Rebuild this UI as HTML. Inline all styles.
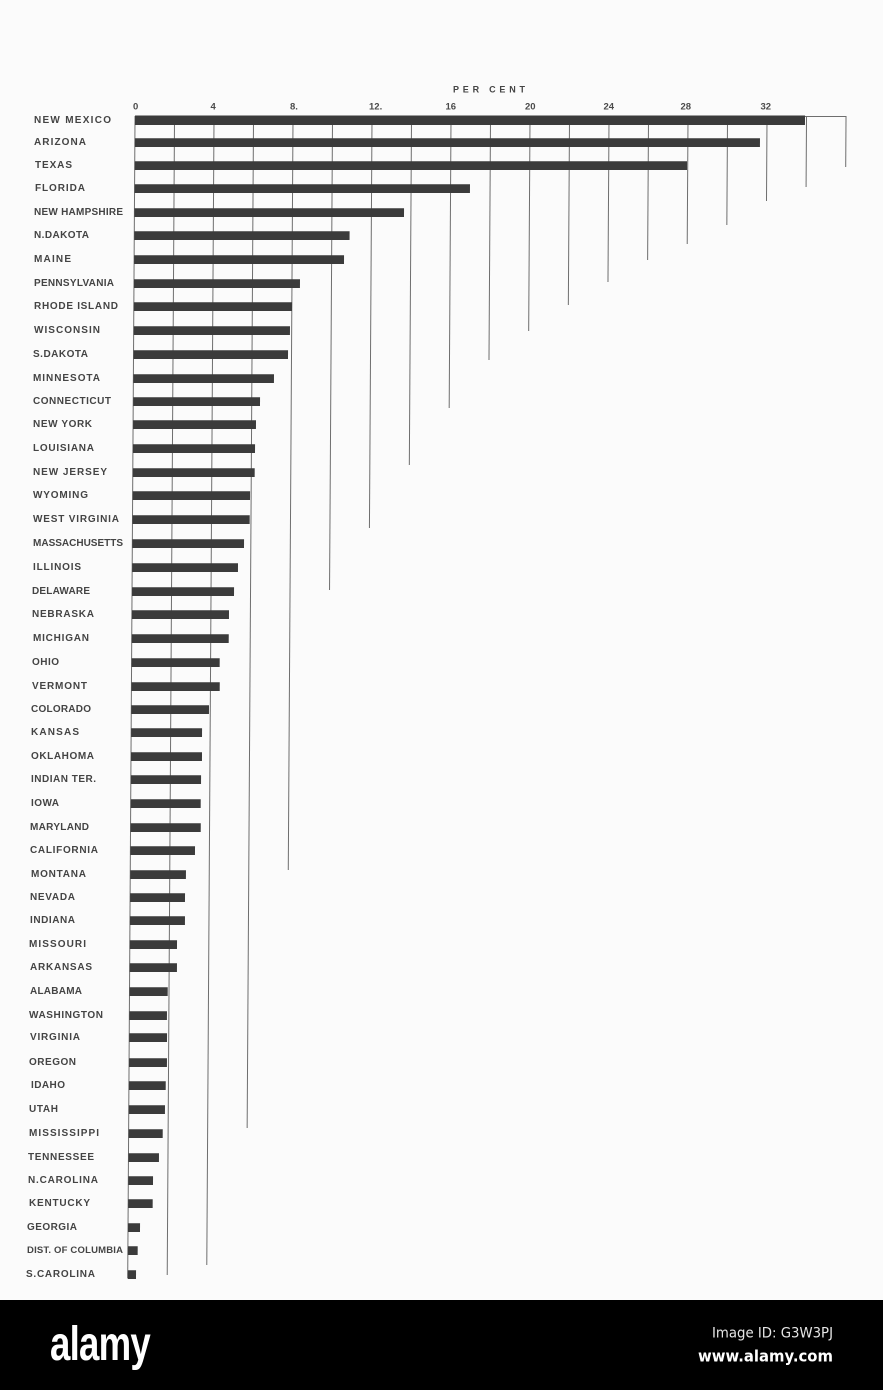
<!DOCTYPE html>
<html><head><meta charset="utf-8"><style>
html,body{margin:0;padding:0;background:#fbfbfb;}
svg{display:block;}
.lb{font-family:"Liberation Sans",sans-serif;font-weight:bold;font-size:10px;fill:#444;}
.tk{font-family:"Liberation Sans",sans-serif;font-weight:bold;font-size:9.5px;fill:#4a4a4a;}
</style></head><body>
<svg width="883" height="1390" viewBox="0 0 883 1390" xmlns="http://www.w3.org/2000/svg">
<rect x="0" y="0" width="883" height="1300" fill="#fbfbfb"/>
<text class="tk" x="453" y="92.5" textLength="72" lengthAdjust="spacing" style="font-size:9px;fill:#444">PER CENT</text>
<text class="tk" x="133" y="109.5">0</text>
<text class="tk" x="210.5" y="109.5">4</text>
<text class="tk" x="290" y="109.5">8.</text>
<text class="tk" x="369" y="109.5">12.</text>
<text class="tk" x="445.5" y="109.5">16</text>
<text class="tk" x="525" y="109.5">20</text>
<text class="tk" x="603.5" y="109.5">24</text>
<text class="tk" x="680.5" y="109.5">28</text>
<text class="tk" x="760.5" y="109.5">32</text>
<g transform="translate(0.756,0) skewX(-0.361)">
<line x1="135" y1="116.5" x2="846" y2="116.5" stroke="#6e6e6e" stroke-width="1"/>
<g stroke="#6e6e6e" stroke-width="1">
<line x1="135" y1="116" x2="135" y2="1278"/>
<line x1="174.5" y1="116" x2="174.5" y2="1275"/>
<line x1="214" y1="116" x2="214" y2="1265"/>
<line x1="253.5" y1="116" x2="253.5" y2="1128"/>
<line x1="293" y1="116" x2="293" y2="870"/>
<line x1="332.5" y1="116" x2="332.5" y2="590"/>
<line x1="372" y1="116" x2="372" y2="528"/>
<line x1="411.5" y1="116" x2="411.5" y2="465"/>
<line x1="451" y1="116" x2="451" y2="408"/>
<line x1="490.5" y1="116" x2="490.5" y2="360"/>
<line x1="530" y1="116" x2="530" y2="331"/>
<line x1="569.5" y1="116" x2="569.5" y2="305"/>
<line x1="609" y1="116" x2="609" y2="282"/>
<line x1="648.5" y1="116" x2="648.5" y2="260"/>
<line x1="688" y1="116" x2="688" y2="244"/>
<line x1="727.5" y1="116" x2="727.5" y2="225"/>
<line x1="767" y1="116" x2="767" y2="201"/>
<line x1="806.5" y1="116" x2="806.5" y2="187"/>
<line x1="846" y1="116" x2="846" y2="167"/>
</g>
<g fill="#3b3b3b">
<rect x="135" y="115.5" width="670" height="9.5"/>
<rect x="135" y="138.2" width="625.1" height="8.8"/>
<rect x="135" y="161.2" width="552.3" height="8.8"/>
<rect x="135" y="184.2" width="335.4" height="8.8"/>
<rect x="135" y="208.2" width="269.6" height="8.8"/>
<rect x="135" y="231.2" width="215.3" height="8.8"/>
<rect x="135" y="255.2" width="209.9" height="8.8"/>
<rect x="135" y="279.2" width="166.0" height="8.8"/>
<rect x="135" y="302.2" width="158.2" height="8.8"/>
<rect x="135" y="326.2" width="156.3" height="8.8"/>
<rect x="135" y="350.2" width="154.5" height="8.8"/>
<rect x="135" y="374.2" width="140.6" height="8.8"/>
<rect x="135" y="397.2" width="126.8" height="8.8"/>
<rect x="135" y="420.2" width="122.9" height="8.8"/>
<rect x="135" y="444.2" width="122.1" height="8.8"/>
<rect x="135" y="468.2" width="121.9" height="8.8"/>
<rect x="135" y="491.2" width="117.4" height="8.8"/>
<rect x="135" y="515.2" width="117.2" height="8.8"/>
<rect x="135" y="539.2" width="111.7" height="8.8"/>
<rect x="135" y="563.2" width="105.8" height="8.8"/>
<rect x="135" y="587.2" width="102.0" height="8.8"/>
<rect x="135" y="610.2" width="97.1" height="8.8"/>
<rect x="135" y="634.2" width="97.0" height="8.8"/>
<rect x="135" y="658.2" width="88.1" height="8.8"/>
<rect x="135" y="682.2" width="88.3" height="8.8"/>
<rect x="135" y="705.2" width="77.7" height="8.8"/>
<rect x="135" y="728.2" width="70.9" height="8.8"/>
<rect x="135" y="752.2" width="71.0" height="8.8"/>
<rect x="135" y="775.2" width="70.2" height="8.8"/>
<rect x="135" y="799.2" width="70.0" height="8.8"/>
<rect x="135" y="823.2" width="70.2" height="8.8"/>
<rect x="135" y="846.2" width="64.6" height="8.8"/>
<rect x="135" y="870.2" width="55.7" height="8.8"/>
<rect x="135" y="893.2" width="54.9" height="8.8"/>
<rect x="135" y="916.2" width="55.0" height="8.8"/>
<rect x="135" y="940.2" width="47.2" height="8.8"/>
<rect x="135" y="963.2" width="47.3" height="8.8"/>
<rect x="135" y="987.2" width="38.2" height="8.8"/>
<rect x="135" y="1011.2" width="37.6" height="8.8"/>
<rect x="135" y="1033.2" width="37.8" height="8.8"/>
<rect x="135" y="1058.2" width="37.9" height="8.8"/>
<rect x="135" y="1081.2" width="36.8" height="8.8"/>
<rect x="135" y="1105.2" width="36.2" height="8.8"/>
<rect x="135" y="1129.2" width="34.1" height="8.8"/>
<rect x="135" y="1153.2" width="30.5" height="8.8"/>
<rect x="135" y="1176.2" width="24.7" height="8.8"/>
<rect x="135" y="1199.2" width="24.5" height="8.8"/>
<rect x="135" y="1223.2" width="12.0" height="8.8"/>
<rect x="135" y="1246.2" width="9.8" height="8.8"/>
<rect x="135" y="1270.2" width="8.3" height="8.8"/>
</g>
</g>
<g class="lb">
<text x="34" y="122.8" textLength="77" lengthAdjust="spacing">NEW MEXICO</text>
<text x="34" y="144.8" textLength="52" lengthAdjust="spacing">ARIZONA</text>
<text x="35" y="167.8" textLength="37" lengthAdjust="spacing">TEXAS</text>
<text x="35" y="190.8" textLength="50" lengthAdjust="spacing">FLORIDA</text>
<text x="34" y="214.8" textLength="89" lengthAdjust="spacing">NEW HAMPSHIRE</text>
<text x="34" y="237.8" textLength="55" lengthAdjust="spacing">N.DAKOTA</text>
<text x="34" y="261.8" textLength="37" lengthAdjust="spacing">MAINE</text>
<text x="34" y="285.8" textLength="80" lengthAdjust="spacing">PENNSYLVANIA</text>
<text x="34" y="308.8" textLength="84" lengthAdjust="spacing">RHODE ISLAND</text>
<text x="34" y="332.8" textLength="66" lengthAdjust="spacing">WISCONSIN</text>
<text x="33" y="356.8" textLength="55" lengthAdjust="spacing">S.DAKOTA</text>
<text x="33" y="380.8" textLength="67" lengthAdjust="spacing">MINNESOTA</text>
<text x="33" y="403.8" textLength="78" lengthAdjust="spacing">CONNECTICUT</text>
<text x="33" y="426.8" textLength="59" lengthAdjust="spacing">NEW YORK</text>
<text x="33" y="450.8" textLength="61" lengthAdjust="spacing">LOUISIANA</text>
<text x="33" y="474.8" textLength="74" lengthAdjust="spacing">NEW JERSEY</text>
<text x="33" y="497.8" textLength="55" lengthAdjust="spacing">WYOMING</text>
<text x="33" y="521.8" textLength="86" lengthAdjust="spacing">WEST VIRGINIA</text>
<text x="33" y="545.8" textLength="90" lengthAdjust="spacing">MASSACHUSETTS</text>
<text x="33" y="569.8" textLength="48" lengthAdjust="spacing">ILLINOIS</text>
<text x="32" y="593.8" textLength="58" lengthAdjust="spacing">DELAWARE</text>
<text x="32" y="616.8" textLength="62" lengthAdjust="spacing">NEBRASKA</text>
<text x="33" y="640.8" textLength="56" lengthAdjust="spacing">MICHIGAN</text>
<text x="32" y="664.8" textLength="27" lengthAdjust="spacing">OHIO</text>
<text x="32" y="688.8" textLength="55" lengthAdjust="spacing">VERMONT</text>
<text x="31" y="711.8" textLength="60" lengthAdjust="spacing">COLORADO</text>
<text x="31" y="734.8" textLength="48" lengthAdjust="spacing">KANSAS</text>
<text x="31" y="758.8" textLength="63" lengthAdjust="spacing">OKLAHOMA</text>
<text x="31" y="781.8" textLength="65" lengthAdjust="spacing">INDIAN TER.</text>
<text x="31" y="805.8" textLength="28" lengthAdjust="spacing">IOWA</text>
<text x="30" y="829.8" textLength="59" lengthAdjust="spacing">MARYLAND</text>
<text x="30" y="852.8" textLength="68" lengthAdjust="spacing">CALIFORNIA</text>
<text x="31" y="876.8" textLength="55" lengthAdjust="spacing">MONTANA</text>
<text x="30" y="899.8" textLength="45" lengthAdjust="spacing">NEVADA</text>
<text x="30" y="922.8" textLength="45" lengthAdjust="spacing">INDIANA</text>
<text x="29" y="946.8" textLength="57" lengthAdjust="spacing">MISSOURI</text>
<text x="30" y="969.8" textLength="62" lengthAdjust="spacing">ARKANSAS</text>
<text x="30" y="993.8" textLength="52" lengthAdjust="spacing">ALABAMA</text>
<text x="29" y="1017.8" textLength="74" lengthAdjust="spacing">WASHINGTON</text>
<text x="30" y="1039.8" textLength="50" lengthAdjust="spacing">VIRGINIA</text>
<text x="29" y="1064.8" textLength="47" lengthAdjust="spacing">OREGON</text>
<text x="31" y="1087.8" textLength="34" lengthAdjust="spacing">IDAHO</text>
<text x="29" y="1111.8" textLength="29" lengthAdjust="spacing">UTAH</text>
<text x="29" y="1135.8" textLength="70" lengthAdjust="spacing">MISSISSIPPI</text>
<text x="28" y="1159.8" textLength="66" lengthAdjust="spacing">TENNESSEE</text>
<text x="28" y="1182.8" textLength="70" lengthAdjust="spacing">N.CAROLINA</text>
<text x="29" y="1205.8" textLength="61" lengthAdjust="spacing">KENTUCKY</text>
<text x="27" y="1229.8" textLength="50" lengthAdjust="spacing">GEORGIA</text>
<text x="27" y="1252.8" textLength="96" lengthAdjust="spacing" style="font-size:9.5px">DIST. OF COLUMBIA</text>
<text x="26" y="1276.8" textLength="69" lengthAdjust="spacing">S.CAROLINA</text>
</g>
<rect x="0" y="1300" width="883" height="90" fill="#000"/>
<text x="50" y="1360" textLength="100" lengthAdjust="spacingAndGlyphs" style="font-family:'Liberation Sans Narrow','Liberation Sans',sans-serif;font-weight:bold;font-size:48px;fill:#fff;letter-spacing:-1px">alamy</text>
<text x="712" y="1337.5" textLength="121" lengthAdjust="spacingAndGlyphs" style="font-family:'DejaVu Sans','Liberation Sans',sans-serif;font-size:14px;fill:#e6e6e6">Image ID: G3W3PJ</text>
<text x="698" y="1361.5" textLength="135" lengthAdjust="spacingAndGlyphs" style="font-family:'DejaVu Sans','Liberation Sans',sans-serif;font-weight:bold;font-size:16px;fill:#fff">www.alamy.com</text>
</svg>
</body></html>
